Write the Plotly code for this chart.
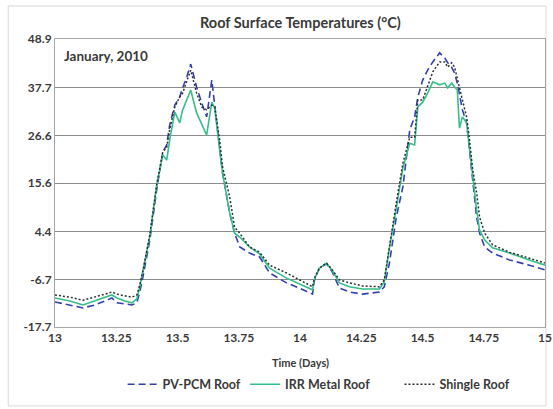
import plotly.graph_objects as go

# Time (days)
time_days = [13.000, 13.061, 13.114, 13.163, 13.204, 13.232, 13.253, 13.285, 13.314, 13.334,
             13.346, 13.358, 13.387, 13.415, 13.440, 13.456, 13.468, 13.489, 13.509, 13.521,
             13.538, 13.554, 13.578, 13.599, 13.619, 13.640, 13.652, 13.672, 13.684, 13.713,
             13.733, 13.754, 13.794, 13.835, 13.876, 13.945, 13.998, 14.051, 14.059, 14.079,
             14.108, 14.132, 14.161, 14.202, 14.255, 14.324, 14.344, 14.365, 14.393, 14.420,
             14.448, 14.468, 14.481, 14.501, 14.521, 14.542, 14.570, 14.591, 14.603, 14.619,
             14.631, 14.642, 14.651, 14.663, 14.680, 14.692, 14.705, 14.721, 14.733, 14.754,
             14.786, 14.855, 14.936, 15.000]

pv_pcm = [-11.9, -12.6, -13.3, -12.6, -11.7, -11.0, -12.1, -12.4, -12.6, -12.1,
          -9.6, -6.4, 2.4, 14.0, 22.8, 24.4, 29.0, 33.6, 35.5, 37.6,
          40.1, 43.1, 37.8, 34.1, 30.9, 39.4, 33.2, 23.2, 17.9, 8.7,
          4.0, 0.8, -0.6, -1.5, -5.2, -7.5, -8.7, -10.1, -6.8, -4.1,
          -3.1, -5.0, -8.7, -9.6, -10.1, -9.6, -8.4, -2.9, 7.7, 14.7,
          27.9, 30.9, 35.5, 39.4, 41.7, 43.6, 45.7, 44.5, 43.4, 42.4,
          41.0, 38.7, 35.9, 32.5, 29.5, 23.2, 16.3, 7.7, 4.0, 0.8,
          -0.6, -2.2, -3.4, -4.5]

irr_metal = [-11.0, -11.7, -12.6, -11.7, -10.8, -10.3, -11.0, -11.7, -12.1, -11.2,
             -8.4, -5.2, 3.3, 15.1, 22.1, 20.9, 25.5, 32.0, 29.5, 32.5,
             34.8, 37.1, 31.8, 29.0, 26.7, 34.3, 32.9, 23.2, 17.9, 8.7,
             4.0, 3.1, 0.8, -0.8, -4.1, -6.4, -7.8, -9.1, -6.6, -4.1,
             -2.9, -4.7, -7.5, -8.4, -8.9, -8.9, -7.3, 0.6, 9.8, 19.1,
             24.8, 24.4, 33.2, 34.3, 36.4, 39.0, 38.3, 38.7, 37.6, 38.7,
             37.8, 37.1, 28.3, 30.9, 29.5, 23.2, 16.3, 9.4, 4.7, 2.4,
             0.6, -0.6, -2.2, -3.4]

shingle = [-10.3, -10.8, -11.5, -10.8, -10.1, -9.6, -10.1, -10.5, -10.8, -10.3,
           -8.0, -5.0, 3.6, 15.1, 22.8, 23.9, 27.9, 33.2, 35.5, 36.4,
           39.0, 41.7, 36.4, 33.2, 32.5, 33.6, 33.2, 25.5, 19.3, 12.4,
           5.4, 4.0, 0.8, -0.4, -3.4, -5.2, -6.8, -8.4, -6.4, -4.1,
           -2.9, -4.5, -6.8, -7.5, -8.2, -8.4, -6.8, 1.3, 11.0, 20.2,
           26.2, 26.2, 34.8, 34.8, 37.8, 41.3, 43.6, 43.6, 42.4, 43.4,
           42.4, 39.4, 37.6, 34.8, 30.9, 25.5, 18.6, 13.3, 7.7, 4.0,
           1.3, -0.4, -1.7, -2.9]

y_ticks = [-17.7, -6.7, 4.4, 15.6, 26.6, 37.7, 48.9]
y_tick_labels = ["-17.7", "-6.7", "4.4", "15.6", "26.6", "37.7", "48.9"]
x_ticks = [13, 13.25, 13.5, 13.75, 14, 14.25, 14.5, 14.75, 15]
x_tick_labels = ["13", "13.25", "13.5", "13.75", "14", "14.25", "14.5", "14.75", "15"]

FONT = "Lato, 'Open Sans', sans-serif"
TXT = "#3a3a3a"

fig = go.Figure()
fig.add_trace(go.Scatter(x=time_days, y=pv_pcm, mode="lines", name="PV-PCM Roof", legend="legend",
                         line=dict(color="#3440B0", width=1.6, dash="7px,4px")))
fig.add_trace(go.Scatter(x=time_days, y=irr_metal, mode="lines", name="IRR Metal Roof", legend="legend2",
                         line=dict(color="#35BE8A", width=1.6)))
fig.add_trace(go.Scatter(x=time_days, y=shingle, mode="lines", name="Shingle Roof", legend="legend3",
                         line=dict(color="#303030", width=1.5, dash="2px,2px")))

leg_common = dict(orientation="h", y=-0.2, xanchor="left", yanchor="middle",
                  font=dict(family=FONT, size=12.5, color=TXT, weight="bold"),
                  bgcolor="rgba(0,0,0,0)", itemwidth=30)

fig.update_layout(
    width=553, height=409,
    margin=dict(l=55, r=8, t=39, b=82),
    paper_bgcolor="white", plot_bgcolor="white",
    font=dict(family=FONT, color=TXT, size=12),
    showlegend=True,
    legend=dict(x=0.138, **leg_common),
    legend2=dict(x=0.388, **leg_common),
    legend3=dict(x=0.703, **leg_common),
    xaxis=dict(range=[13, 15], tickvals=x_ticks, ticktext=x_tick_labels,
               showgrid=False, zeroline=False, showline=True, mirror=True,
               linecolor="#A6A6A6", linewidth=1, ticks="", ticklabeloverflow="allow",
               automargin=False,
               tickfont=dict(family=FONT, size=12, color=TXT, weight="bold")),
    yaxis=dict(range=[-17.7, 48.9], tickvals=y_ticks, ticktext=y_tick_labels,
               showgrid=True, gridcolor="#8C8C8C", gridwidth=1.3, zeroline=False,
               showline=True, mirror=True, linecolor="#A6A6A6", linewidth=1, ticks="",
               automargin=False,
               tickfont=dict(family=FONT, size=12, color=TXT, weight="bold")),
)

fig.add_annotation(text="Roof Surface Temperatures (°C)", xref="paper", yref="paper",
                   x=0.5, y=1.058, xanchor="center", yanchor="middle", showarrow=False,
                   font=dict(family=FONT, size=14.5, color=TXT, weight="bold"))
fig.add_annotation(text="January, 2010", xref="paper", yref="paper",
                   x=0.015, y=0.94, xanchor="left", yanchor="middle", showarrow=False,
                   font=dict(family=FONT, size=13.5, color=TXT, weight="bold"))
fig.add_annotation(text="Time (Days)", xref="paper", yref="paper",
                   x=0.5, y=-0.122, xanchor="center", yanchor="middle", showarrow=False,
                   font=dict(family=FONT, size=11, color=TXT, weight="bold"))

fig.add_shape(type="rect", xref="paper", yref="paper",
              x0=-0.0955, x1=1.002, y0=-0.274, y1=1.1146,
              line=dict(color="#D9D9D9", width=1), fillcolor="rgba(0,0,0,0)", layer="below")

fig.write_html("out.html", config={"displayModeBar": False},
               post_script="document.body.style.margin='0';document.body.style.padding='0';")
